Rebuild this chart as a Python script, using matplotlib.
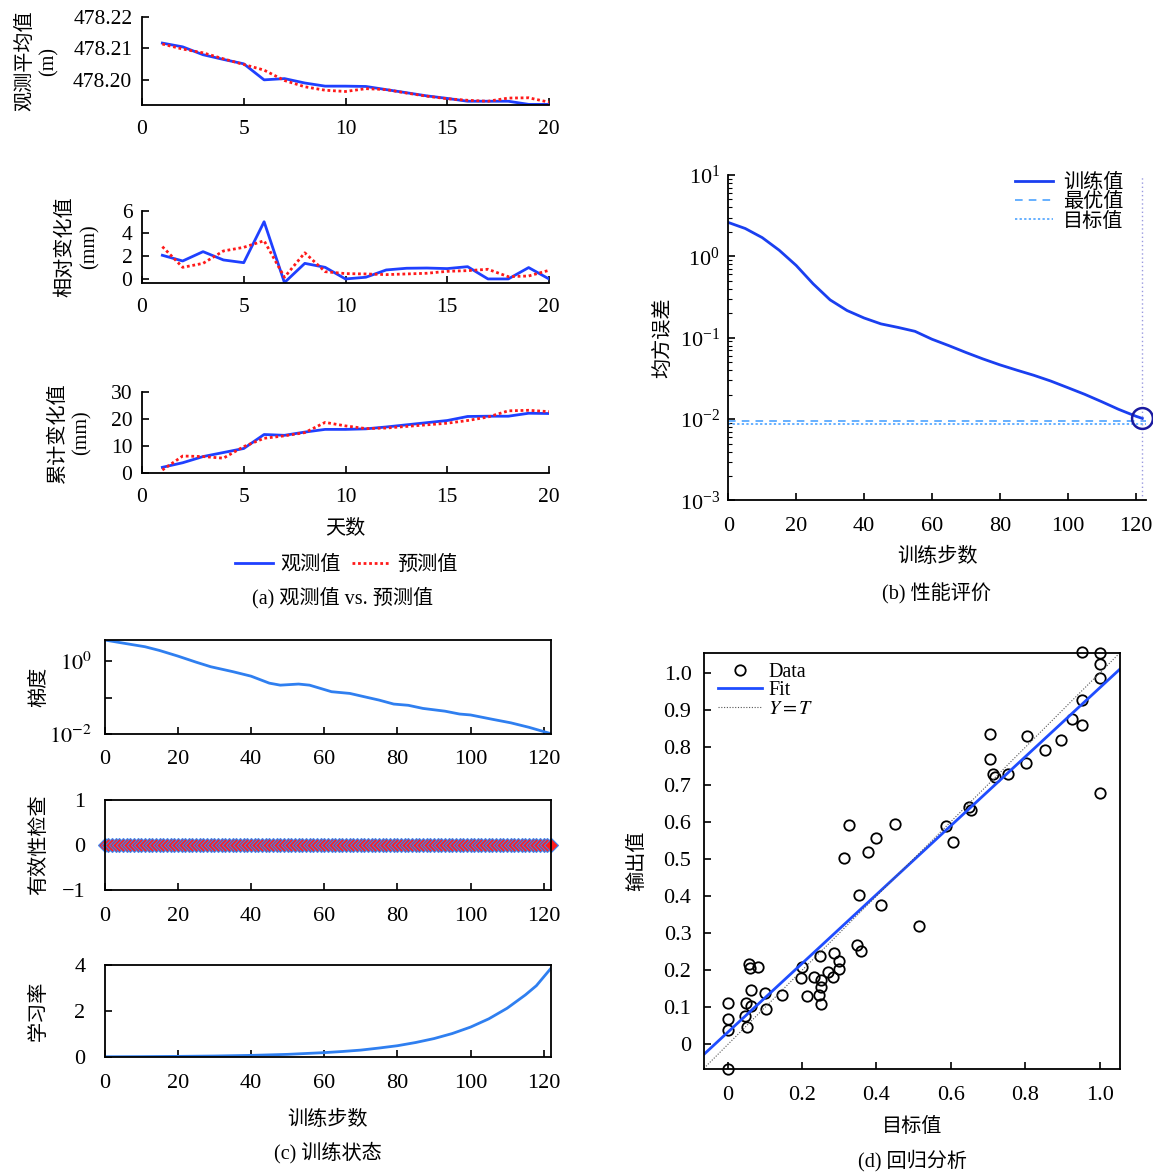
import numpy as np
import matplotlib
matplotlib.use("Agg")
import matplotlib.pyplot as plt
from matplotlib.lines import Line2D

plt.rcParams['font.family'] = ['Liberation Serif', 'Noto Sans CJK SC']
plt.rcParams['mathtext.fontset'] = 'stix'
plt.rcParams['axes.unicode_minus'] = True
FS = 14.5      # labels, legends, captions
TFS = 16       # tick labels
TFS_A = 15.5   # tick labels of panel (a)

# ---------------- (a) observed vs. predicted ----------------
days = list(range(1, 21))
obs_mean = [478.2117, 478.2105, 478.2080, 478.2065, 478.2051, 478.2000, 478.2004,
            478.1990, 478.1980, 478.1980, 478.1979, 478.1969, 478.1959, 478.1949,
            478.1941, 478.1932, 478.1932, 478.1932, 478.1922, 478.1922]
pred_mean = [478.2114, 478.2098, 478.2086, 478.2067, 478.2049, 478.2031, 478.1998,
             478.1978, 478.1967, 478.1963, 478.1972, 478.1969, 478.1958, 478.1948,
             478.1940, 478.1935, 478.1932, 478.1942, 478.1943, 478.1929]
obs_rel = [2.08, 1.58, 2.40, 1.67, 1.43, 5.03, -0.32, 1.37, 1.02, 0.0,
           0.15, 0.79, 0.94, 0.96, 0.91, 1.08, 0.0, 0.0, 1.0, 0.0]
pred_rel = [2.84, 1.02, 1.37, 2.46, 2.78, 3.36, 0.15, 2.30, 0.64, 0.47,
            0.44, 0.38, 0.44, 0.50, 0.67, 0.73, 0.85, 0.20, 0.26, 0.76]
obs_cum = [2.0, 3.7, 6.0, 7.5, 9.0, 14.2, 13.9, 15.1, 16.1, 16.1,
           16.3, 17.0, 17.8, 18.6, 19.4, 20.9, 21.0, 21.0, 22.1, 22.0]
pred_cum = [1.0, 6.2, 6.0, 5.4, 9.7, 12.8, 13.7, 14.9, 18.7, 17.4,
            16.4, 16.6, 17.2, 17.8, 18.4, 19.4, 20.7, 23.0, 23.2, 22.7]

# ---------------- (b) performance ----------------
perf_epoch = [0, 5, 10, 15, 20, 25, 30, 35, 40, 45, 50, 55, 60, 65, 70, 75,
              80, 85, 90, 95, 100, 105, 110, 115, 120, 122]
perf_mse = [2.61, 2.20, 1.70, 1.19, 0.774, 0.46, 0.292, 0.216, 0.175, 0.148,
            0.134, 0.120, 0.096, 0.080, 0.066, 0.055, 0.0465, 0.040, 0.0346,
            0.0294, 0.0244, 0.0202, 0.0164, 0.0132, 0.0109, 0.0102]
best_epoch = 122
best_mse = 0.0096
goal_mse = 0.0086

# ---------------- (c) training state ----------------
grad_epoch = [0, 5, 11, 15, 20, 25, 29, 35, 40, 45, 48, 53, 56, 62, 67, 71,
              75, 79, 83, 87, 93, 97, 100, 106, 111, 116, 122]
grad_val = [3.9, 3.2, 2.54, 2.0, 1.40, 0.95, 0.71, 0.52, 0.39, 0.25, 0.22,
            0.236, 0.22, 0.145, 0.13, 0.105, 0.085, 0.066, 0.061, 0.050,
            0.042, 0.035, 0.033, 0.025, 0.020, 0.015, 0.010]
val_epoch = list(range(0, 123))
val_fail = [0] * len(val_epoch)
lr_epoch = [0, 10, 20, 30, 40, 50, 60, 65, 70, 75, 80, 85, 90, 95, 100,
            105, 110, 115, 118, 122]
lr_val = [0.01, 0.016, 0.027, 0.043, 0.07, 0.115, 0.19, 0.24, 0.30, 0.39,
          0.49, 0.63, 0.80, 1.02, 1.30, 1.66, 2.12, 2.70, 3.10, 3.86]

# ---------------- (d) regression ----------------
target = [0.952, 1.002, 1.002, 1.002, 0.952, 0.927, 0.954, 0.897, 0.854, 0.806,
          0.803, 0.704, 0.704, 0.713, 0.719, 0.754, 1.002, 0.650, 0.655, 0.588,
          0.605, 0.326, 0.451, 0.398, 0.376, 0.312, 0.353, 0.413, 0.513, 0.347,
          0.358, 0.286, 0.247, 0.298, 0.299, 0.269, 0.283, 0.199, 0.196, 0.231,
          0.251, 0.251, 0.244, 0.213, 0.251, 0.146, 0.100, 0.102, 0.062, 0.057,
          0.061, 0.080, 0.049, 0.063, 0.045, 0.051, 0.001, 0.001, 0.001, 0.001]
output = [1.058, 1.053, 1.024, 0.988, 0.927, 0.876, 0.859, 0.819, 0.792, 0.831,
          0.759, 0.835, 0.770, 0.729, 0.719, 0.728, 0.677, 0.639, 0.631, 0.587,
          0.544, 0.592, 0.593, 0.557, 0.518, 0.502, 0.403, 0.375, 0.319, 0.269,
          0.252, 0.247, 0.237, 0.226, 0.204, 0.195, 0.181, 0.208, 0.180, 0.181,
          0.173, 0.155, 0.132, 0.131, 0.109, 0.132, 0.139, 0.096, 0.147, 0.217,
          0.206, 0.209, 0.113, 0.104, 0.078, 0.046, 0.111, 0.069, 0.038, -0.065]
fit_slope = 0.927
fit_intercept = 0.033

W, H = 1153, 1172
fig = plt.figure(figsize=(W / 100, H / 100), dpi=100)


def px_axes(left, top, right, bottom):
    ax = fig.add_axes([left / W, 1 - bottom / H, (right - left) / W, (bottom - top) / H])
    ax._px = (left, top, right, bottom)
    return ax


def ylabel_at(ax, text, x_right_px, **kw):
    """Place a y label so that its right edge sits at a given pixel column."""
    left, top, right, bottom = ax._px
    ax.set_ylabel(text, fontsize=FS, **kw)
    ax.yaxis.set_label_coords((x_right_px - left) / (right - left), 0.5)


def xlabel_at(ax, text, y_top_px):
    """Place an x label so that its top edge sits at a given pixel row."""
    left, top, right, bottom = ax._px
    ax.set_xlabel(text, fontsize=FS)
    ax.xaxis.set_label_coords(0.5, (bottom - y_top_px) / (bottom - top))


BLUE_A = '#1f40ff'
RED_A = '#ff1a1a'
BLUE_C = '#2f7ff0'


def style_open(ax, xpad=10, ypad=8, size=TFS):
    for s in ('top', 'right'):
        ax.spines[s].set_visible(False)
    for s in ('left', 'bottom'):
        ax.spines[s].set_linewidth(1.3)
    ax.tick_params(direction='in', length=5, width=1.2, labelsize=size)
    ax.tick_params(axis='x', pad=xpad)
    ax.tick_params(axis='y', pad=ypad)


def style_box(ax, xpad=12, ypad=9):
    for s in ax.spines.values():
        s.set_linewidth(1.3)
    ax.tick_params(direction='in', length=5, width=1.2, labelsize=TFS,
                   top=False, right=False)
    ax.tick_params(axis='x', pad=xpad)
    ax.tick_params(axis='y', pad=ypad)


# (a) three stacked panels
dot = (0, (1, 1))
ax1 = px_axes(142, 17, 549, 105)
ax1.plot(days, obs_mean, color=BLUE_A, lw=2)
ax1.plot(days, pred_mean, color=RED_A, lw=2, ls=dot)
ax1.set_xlim(0, 20)
ax1.set_ylim(478.192, 478.22)
ax1.set_yticks([478.20, 478.21, 478.22])
ax1.set_yticklabels(['478.20', '478.21', '478.22'])
ax1.set_xticks([0, 5, 10, 15, 20])
style_open(ax1, xpad=11, ypad=7, size=TFS_A)
ylabel_at(ax1, '观测平均值\n(m)', 59, linespacing=1.35)

ax2 = px_axes(142, 210.7, 549, 282.7)
ax2.plot(days, obs_rel, color=BLUE_A, lw=2)
ax2.plot(days, pred_rel, color=RED_A, lw=2, ls=dot)
ax2.set_xlim(0, 20)
ax2.set_ylim(-0.33, 6)
ax2.set_yticks([0, 2, 4, 6])
ax2.set_xticks([0, 5, 10, 15, 20])
style_open(ax2, xpad=11, ypad=7, size=TFS_A)
ylabel_at(ax2, '相对变化值\n(mm)', 100, linespacing=1.35)

ax3 = px_axes(142, 392, 549, 472.7)
ax3.plot(days, obs_cum, color=BLUE_A, lw=2)
ax3.plot(days, pred_cum, color=RED_A, lw=2, ls=dot)
ax3.set_xlim(0, 20)
ax3.set_ylim(0, 30)
ax3.set_yticks([0, 10, 20, 30])
ax3.set_xticks([0, 5, 10, 15, 20])
style_open(ax3, xpad=11, ypad=7, size=TFS_A)
ylabel_at(ax3, '累计变化值\n(mm)', 92, linespacing=1.35)
xlabel_at(ax3, '天数', 519)

leg_a = [Line2D([], [], color=BLUE_A, lw=2),
         Line2D([], [], color=RED_A, lw=2, ls=dot)]
fig.legend(leg_a, ['观测值', '预测值'], loc='center', ncol=2,
           bbox_to_anchor=(346 / W, 1 - 565 / H), frameon=False, fontsize=FS,
           handlelength=1.9, columnspacing=0.55, handletextpad=0.35)
fig.text(343 / W, 1 - 598 / H, '(a) 观测值 vs. 预测值', ha='center', va='center', fontsize=FS)

# (b) performance
axb = px_axes(728.3, 175, 1145.7, 500.5)
axb.semilogy(perf_epoch, perf_mse, color='#1a3ff0', lw=2, label='训练值')
axb.axhline(best_mse, color='#3d9bff', lw=1.1, ls=(0, (5, 4)), label='最优值')
axb.axhline(goal_mse, color='#3d9bff', lw=1.1, ls=(0, (1.5, 1.5)), label='目标值')
axb.axvline(best_epoch, color='#9a9ae0', lw=1.0, ls=(0, (1, 2)))
axb.plot([best_epoch], [perf_mse[-1]], marker='o', ms=15, mfc='none',
         mec='#1a1aa0', mew=1.8, clip_on=False)
axb.set_xlim(0, 123)
axb.set_ylim(1e-3, 10)
axb.set_xticks([0, 20, 40, 60, 80, 100, 120])
style_open(axb, xpad=12, ypad=6)
axb.tick_params(axis='y', which='minor', direction='in', length=3, width=0.8)
xlabel_at(axb, '训练步数', 548)
ylabel_at(axb, '均方误差', 673)
axb.legend(loc='upper left', bbox_to_anchor=(0.643, 1.058), frameon=False,
           fontsize=FS, handlelength=1.9, labelspacing=0.0, handletextpad=0.5)
fig.text(937 / W, 1 - 594 / H, '(b) 性能评价', ha='center', va='center', fontsize=FS)

# (c) training state
axg = px_axes(104.7, 640, 551, 733.7)
axg.semilogy(grad_epoch, grad_val, color=BLUE_C, lw=2)
axg.set_xlim(0, 122)
axg.set_ylim(0.01, 3.9)
axg.set_yticks([0.01, 0.1, 1])
axg.set_yticklabels(['$10^{-2}$', '', '$10^{0}$'])
axg.yaxis.set_minor_locator(matplotlib.ticker.NullLocator())
axg.set_xticks([0, 20, 40, 60, 80, 100, 120])
style_box(axg)
ylabel_at(axg, '梯度', 49)

axv = px_axes(104.7, 800, 551, 890)
axv.plot(val_epoch, val_fail, ls='none', marker='D', ms=7.5, mfc='#ff1f1f',
         mec='#3a86f0', mew=0.8, clip_on=False)
axv.set_xlim(0, 122)
axv.set_ylim(-1, 1)
axv.set_yticks([-1, 0, 1])
axv.set_xticks([0, 20, 40, 60, 80, 100, 120])
style_box(axv, ypad=14)
ylabel_at(axv, '有效性检查', 49)

axl = px_axes(104.7, 965, 551, 1057)
axl.plot(lr_epoch, lr_val, color=BLUE_C, lw=2)
axl.set_xlim(0, 122)
axl.set_ylim(0, 4)
axl.set_yticks([0, 2, 4])
axl.set_xticks([0, 20, 40, 60, 80, 100, 120])
style_box(axl, ypad=14)
ylabel_at(axl, '学习率', 49)
xlabel_at(axl, '训练步数', 1111)
fig.text(328 / W, 1 - 1153 / H, '(c) 训练状态', ha='center', va='center', fontsize=FS)

# (d) regression
axd = px_axes(704, 652.7, 1120, 1069)
xlo, xhi = -0.064, 1.055
ylo, yhi = -0.066, 1.055
axd.plot(target, output, ls='none', marker='o', ms=7.5, mfc='none', mec='black',
         mew=1.3, label='Data', clip_on=False)
xs = np.array([xlo, xhi])
axd.plot(xs, fit_slope * xs + fit_intercept, color='#1f4dff', lw=2, label='Fit')
axd.plot(xs, xs, color='#555555', lw=0.8, ls=(0, (1, 1.5)), label='$Y = T$')
axd.set_xlim(xlo, xhi)
axd.set_ylim(ylo, yhi)
axd.set_xticks([0, 0.2, 0.4, 0.6, 0.8, 1.0])
axd.set_xticklabels(['0', '0.2', '0.4', '0.6', '0.8', '1.0'])
axd.set_yticks([0, 0.1, 0.2, 0.3, 0.4, 0.5, 0.6, 0.7, 0.8, 0.9, 1.0])
axd.set_yticklabels(['0', '0.1', '0.2', '0.3', '0.4', '0.5', '0.6', '0.7', '0.8', '0.9', '1.0'])
style_box(axd, xpad=12, ypad=9)
xlabel_at(axd, '目标值', 1118)
ylabel_at(axd, '输出值', 647)
h, l = axd.get_legend_handles_labels()
axd.legend(h, l, loc='upper left', bbox_to_anchor=(-0.01, 1.02), frameon=False, fontsize=FS,
           handlelength=2.2, labelspacing=-0.02, handletextpad=0.3, borderpad=0.4)
fig.text(912 / W, 1 - 1161 / H, '(d) 回归分析', ha='center', va='center', fontsize=FS)

fig.savefig('out.png', dpi=100)
